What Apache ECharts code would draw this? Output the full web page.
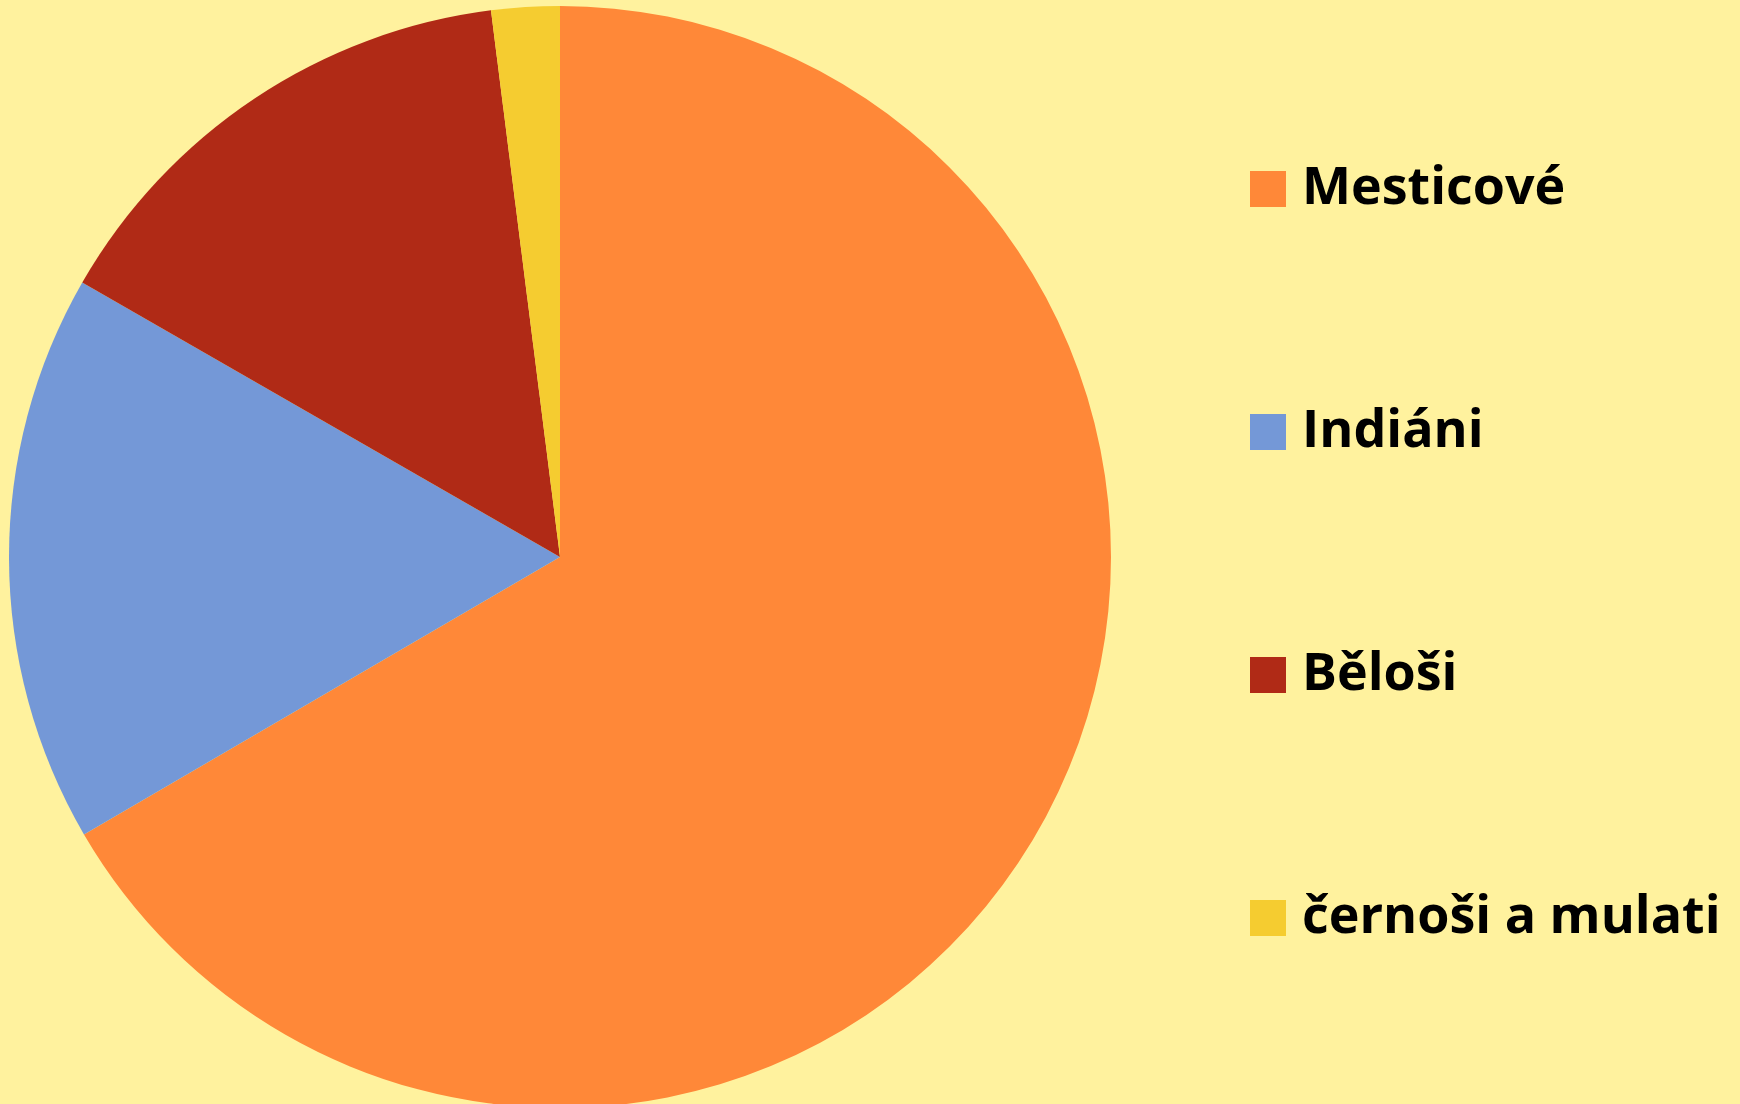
<!DOCTYPE html>
<html>
<head>
<meta charset="utf-8">
<script src="https://cdn.jsdelivr.net/npm/echarts@6/dist/echarts.min.js"></script>
<style>
  html, body { margin: 0; padding: 0; background: #fff29e; }
  #chart { width: 1740px; height: 1104px; }
</style>
</head>
<body>
<div id="chart"></div>
<script>
// podíl obyvatel (%)
const groups = ["Mesticové", "Indiáni", "Běloši", "černoši a mulati"];
const shares = [66.6, 16.7, 14.7, 2.0];
const colors = ["#ff8838", "#7498d7", "#b02a16", "#f5cc30"];

const chart = echarts.init(document.getElementById("chart"), null, { renderer: "canvas" });

chart.setOption({
  backgroundColor: "#fff29e",
  animation: false,
  color: colors,
  legend: {
    orient: "vertical",
    left: 1245,
    top: 158,
    icon: "rect",
    itemWidth: 36,
    itemHeight: 36,
    itemGap: 191,
    selectedMode: false,
    textStyle: {
      color: "#000",
      fontFamily: "Open Sans",
      fontWeight: "bold",
      fontSize: 52,
      lineHeight: 36,
      padding: [0, 0, 0, 11],
    },
    data: groups,
  },
  series: [
    {
      type: "pie",
      center: [560, 557],
      radius: 551,
      startAngle: 90,
      clockwise: true,
      label: { show: false },
      labelLine: { show: false },
      itemStyle: { borderWidth: 0 },
      emphasis: { disabled: true },
      data: groups.map((name, i) => ({ name, value: shares[i] })),
    },
  ],
});
</script>
</body>
</html>
